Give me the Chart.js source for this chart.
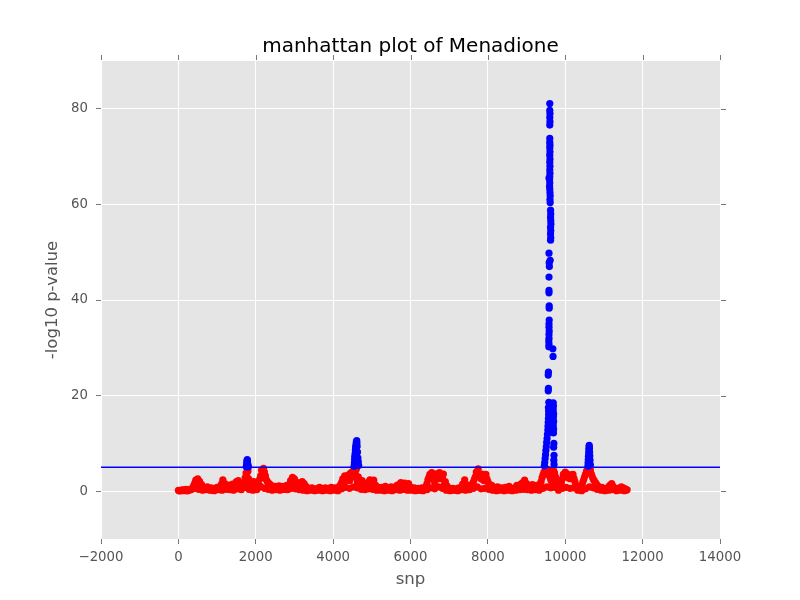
<!DOCTYPE html>
<html>
<head>
<meta charset="utf-8">
<script src="https://cdn.jsdelivr.net/npm/chart.js@4.4.1/dist/chart.umd.min.js"></script>
<style>
  html, body { margin: 0; padding: 0; background: #fff; }
</style>
</head>
<body>
<canvas id="manhattan" width="800" height="600"></canvas>
<script>
const chartTitle = 'manhattan plot of Menadione';
const xTicks = [-2000, 0, 2000, 4000, 6000, 8000, 10000, 12000, 14000];
const yTicks = [0, 20, 40, 60, 80];
const threshold = 5;

// -log10 p along the genome, one value every 50 snps (0 .. 11600)
const baseStep = 50;
const baseVals = [
    0.2, 0.1, 0.3, 0.2, 0.4, 0.2, 0.3, 0.5, 1.2, 2.3, 2.6, 2.0, 1.4, 0.8, 0.6, 0.9, 0.5, 0.7, 0.4, 0.6,
    0.8, 0.5, 1.2, 2.4, 1.6, 0.9, 1.3, 0.8, 1.5, 1.2, 2.0, 2.2, 1.4, 0.9, 1.8, 3.8, 4.2, 1.2, 0.5, 2.0,
    1.0, 0.6, 2.5, 4.4, 4.8, 3.2, 2.0, 1.6, 1.2, 0.8, 1.0, 0.7, 1.1, 0.8, 1.0, 0.6, 1.2, 0.8, 2.2, 2.9,
    2.6, 1.9, 1.2, 1.7, 2.0, 1.6, 1.0, 0.6, 0.4, 0.7, 0.5, 0.3, 0.6, 0.8, 0.5, 0.4, 0.7, 0.5, 0.6, 0.8,
    0.5, 0.7, 0.6, 0.9, 1.5, 2.6, 3.2, 2.8, 3.4, 3.8, 4.1, 4.5, 4.6, 3.0, 1.6, 2.2, 1.3, 0.7, 1.8, 2.4,
    1.6, 2.3, 1.2, 0.8, 0.5, 0.8, 0.6, 1.0, 0.7, 0.5, 0.9, 0.6, 0.8, 1.2, 1.4, 1.8, 1.3, 1.7, 1.0, 1.6,
    0.9, 0.5, 0.7, 0.4, 0.6, 0.3, 0.7, 0.5, 1.0, 2.4, 3.5, 3.9, 3.6, 2.5, 3.7, 3.9, 3.2, 3.6, 2.0, 1.0,
    0.5, 0.3, 0.6, 0.4, 0.5, 0.7, 0.4, 1.5, 2.4, 1.0, 1.3, 0.8, 1.5, 2.5, 4.0, 4.7, 3.2, 3.6, 2.2, 3.5,
    2.0, 1.4, 1.2, 0.8, 0.6, 0.9, 0.5, 0.7, 0.4, 0.8, 0.5, 1.0, 0.6, 0.4, 0.7, 1.2, 0.9, 1.5, 1.8, 2.3,
    1.6, 1.2, 0.9, 1.4, 1.0, 1.2, 0.8, 1.5, 2.8, 4.0, 4.8, 4.5, 3.0, 2.0, 4.3, 3.0, 1.2, 0.5, 1.8, 3.5,
    4.0, 3.6, 3.2, 3.4, 3.5, 2.0, 0.8, 0.3, 0.6, 1.8, 3.0, 4.2, 4.6, 4.4, 3.0, 2.2, 1.6, 1.0, 0.6, 0.8,
    0.5, 0.4, 0.7, 1.2, 1.6, 0.8, 0.4, 0.6, 0.5, 0.9, 0.7, 0.5, 0.3
];

// snps in between, one every 50 starting at 25
const midStart = 25;
const midStep = 50;
const midVals = [
    0.1, 0.2, 0.1, 0.3, 0.1, 0.2, 0.4, 0.8, 1.7, 1.5, 2.2, 1.1, 0.9, 0.4, 0.7, 0.3, 0.5, 0.2, 0.5, 0.3,
    0.4, 0.7, 1.6, 1.3, 0.8, 1.1, 0.5, 1.0, 0.7, 1.4, 1.2, 1.6, 0.6, 1.2, 2.8, 3.0, 2.5, 0.8, 1.2, 1.4,
    0.5, 1.4, 3.2, 3.0, 4.0, 2.4, 1.2, 0.9, 0.6, 0.5, 0.4, 0.8, 0.5, 0.6, 0.4, 0.8, 0.5, 1.5, 1.8, 2.0,
    1.6, 1.0, 0.8, 1.2, 1.1, 0.7, 0.5, 0.3, 0.5, 0.3, 0.2, 0.4, 0.5, 0.3, 0.2, 0.5, 0.3, 0.4, 0.5, 0.3,
    0.4, 0.3, 0.5, 1.1, 1.9, 2.0, 2.3, 2.6, 2.2, 2.9, 3.2, 3.6, 2.1, 1.2, 1.4, 0.9, 0.6, 1.2, 1.5, 1.3,
    1.5, 1.0, 0.6, 0.4, 0.5, 0.3, 0.7, 0.4, 0.3, 0.6, 0.4, 0.5, 0.9, 0.8, 1.1, 0.9, 1.2, 0.7, 1.1, 0.6,
    0.4, 0.3, 0.3, 0.5, 0.2, 0.4, 0.3, 0.6, 1.6, 2.9, 2.7, 3.0, 1.8, 2.8, 2.9, 2.6, 2.8, 1.4, 1.2, 0.6,
    0.2, 0.4, 0.3, 0.2, 0.4, 0.3, 0.9, 1.6, 1.4, 0.7, 0.9, 1.1, 1.9, 3.0, 3.4, 3.6, 2.6, 2.4, 2.8, 2.6,
    1.2, 1.0, 0.7, 0.5, 0.4, 0.3, 0.5, 0.3, 0.5, 0.4, 0.6, 0.4, 0.3, 0.5, 0.8, 0.6, 1.0, 1.2, 1.5, 1.4,
    0.9, 0.7, 1.0, 0.8, 0.6, 0.9, 1.1, 2.0, 3.4, 3.6, 4.2, 3.6, 2.4, 3.5, 3.8, 2.0, 0.8, 1.0, 2.6, 3.0,
    3.2, 2.8, 2.6, 2.9, 2.7, 1.3, 0.5, 0.4, 1.1, 2.4, 3.6, 3.8, 3.9, 3.6, 2.5, 1.8, 1.2, 0.7, 0.4, 0.5,
    0.3, 0.5, 0.9, 1.0, 1.1, 0.5, 0.3, 0.4, 0.7, 0.6, 0.4, 0.2
];

// weaker snps sitting under the trace, one every 100 snps starting at 25
const lowStart = 25;
const lowStep = 100;
const lowVals = [
    0.1, 0.2, 0.1, 0.3, 0.6, 0.4, 0.2, 0.3, 0.2, 0.1,
    0.3, 0.2, 0.4, 0.3, 0.2, 0.5, 0.3, 0.8, 0.4, 0.2,
    0.3, 1.0, 0.6, 0.4, 0.2, 0.3, 0.2, 0.4, 0.3, 0.6,
    0.5, 0.3, 0.2, 0.1, 0.2, 0.1, 0.2, 0.1, 0.2, 0.1,
    0.2, 0.1, 0.5, 0.8, 0.6, 0.9, 0.7, 0.4, 0.3, 0.5,
    0.4, 0.2, 0.2, 0.1, 0.2, 0.1, 0.3, 0.2, 0.4, 0.2,
    0.2, 0.1, 0.2, 0.1, 0.3, 0.7, 0.5, 0.9, 0.6, 0.2,
    0.1, 0.2, 0.1, 0.3, 0.2, 0.3, 0.6, 0.9, 0.5, 0.6,
    0.4, 0.2, 0.1, 0.2, 0.1, 0.2, 0.1, 0.2, 0.3, 0.4,
    0.3, 0.2, 0.3, 0.2, 0.6, 0.9, 0.7, 0.8, 0.2, 0.6,
    0.8, 0.6, 0.7, 0.2, 0.1, 0.5, 0.9, 0.7, 0.4, 0.2,
    0.1, 0.2, 0.3, 0.1, 0.2, 0.1
];

// snps in the four peaks
const peakSnp = [
    1755, 1765, 1770, 1775, 1780, 1785, 1790, 1800, 1810,
    4540, 4550, 4555, 4560, 4570, 4575, 4580, 4590, 4595, 4600, 4610, 4615, 4620, 4630, 4640, 4650, 4660,
    9460, 9470, 9480, 9490, 9500, 9510, 9520, 9530, 9540, 9550, 9555, 9560, 9565, 9570,
    9570, 9565, 9575, 9560, 9565, 9560, 9565, 9680, 9685,
    9575, 9580, 9575, 9580, 9580, 9585, 9580, 9580, 9585, 9585, 9585, 9580, 9580, 9580, 9590, 9585, 9610, 9580,
    9620, 9625, 9620, 9625, 9620, 9630, 9625, 9620, 9625, 9620,
    9610, 9605, 9610, 9605, 9600, 9595, 9600, 9595, 9600, 9605, 9600, 9605, 9600, 9605, 9600, 9605, 9600, 9605,
    9600, 9600, 9600, 9605, 9600, 9605, 9600, 9600, 9580,
    9690, 9695, 9690, 9700, 9695, 9700, 9690, 9700, 9695, 9705, 9700, 9710, 9705, 9710,
    10585, 10590, 10595, 10600, 10605, 10610, 10615, 10620, 10625, 10630, 10635, 10640, 10650
];
const peakVals = [
    5.1, 5.6, 6.0, 6.4, 6.6, 6.3, 5.9, 5.4, 5.1,
    5.2, 5.9, 6.6, 7.3, 7.9, 8.6, 9.1, 9.5, 9.9, 10.3, 10.6, 10.1, 9.4, 8.2, 7.0, 6.2, 5.4,
    5.3, 6.0, 6.8, 7.6, 8.5, 9.3, 10.2, 11.0, 11.9, 12.8, 13.6, 14.4, 15.2, 16.0,
    16.8, 17.5, 18.6, 21.0, 21.5, 24.3, 24.9, 29.8, 28.2,
    30.2, 30.8, 31.4, 32.0, 32.8, 33.5, 34.3, 35.0, 35.8, 38.3, 38.8, 41.5, 42.0, 44.8, 47.0, 47.8, 48.3, 49.8,
    52.5, 53.0, 53.8, 54.5, 55.2, 55.9, 56.6, 57.3, 58.0, 58.8,
    60.4, 61.0, 61.8, 62.5, 63.2, 63.8, 64.5, 65.2, 65.8, 66.5, 67.2, 68.0, 68.8, 69.5, 70.3, 71.0, 71.8, 72.4,
    73.0, 73.8, 76.6, 77.3, 78.2, 79.0, 79.7, 81.1, 65.5,
    18.5, 17.8, 17.0, 16.2, 15.5, 14.6, 13.8, 13.0, 12.2, 10.0, 9.2, 7.5, 6.5, 5.6,
    5.2, 5.9, 6.6, 7.3, 8.0, 8.7, 9.3, 9.6, 9.0, 8.2, 7.4, 6.5, 5.5
];

const points = [];
baseVals.forEach((v, i) => points.push({ x: i * baseStep, y: v }));
midVals.forEach((v, i) => points.push({ x: midStart + i * midStep, y: v }));
lowVals.forEach((v, i) => points.push({ x: lowStart + i * lowStep, y: v }));
peakSnp.forEach((s, i) => points.push({ x: s, y: peakVals[i] }));

const significant = points.filter(p => p.y >= threshold);
const background = points.filter(p => p.y < threshold);

// grey ggplot-like panel, title centred over the panel
const plotBackground = {
    id: 'plotBackground',
    afterLayout(chart) {
        if (chart.titleBlock) {
            chart.titleBlock.left = chart.chartArea.left;
            chart.titleBlock.right = chart.chartArea.right;
        }
    },
    beforeDraw(chart) {
        const { ctx, chartArea: a } = chart;
        ctx.save();
        ctx.fillStyle = '#E5E5E5';
        ctx.fillRect(a.left, a.top, a.right - a.left, a.bottom - a.top);
        ctx.restore();
    }
};

// small tick marks on the top and right edges
const mirrorTicks = {
    id: 'mirrorTicks',
    afterDraw(chart) {
        const { ctx, chartArea: a, scales } = chart;
        ctx.save();
        ctx.strokeStyle = '#777';
        ctx.lineWidth = 1;
        ctx.beginPath();
        xTicks.forEach(t => {
            const px = Math.round(scales.x.getPixelForValue(t)) + 0.5;
            ctx.moveTo(px, a.top - 1);
            ctx.lineTo(px, a.top - 6);
        });
        yTicks.forEach(t => {
            const py = Math.round(scales.y.getPixelForValue(t)) + 0.5;
            ctx.moveTo(a.right + 1, py);
            ctx.lineTo(a.right + 6, py);
        });
        ctx.stroke();
        ctx.restore();
    }
};

Chart.defaults.font.family = "'DejaVu Sans', sans-serif";

const ctx = document.getElementById('manhattan').getContext('2d');

new Chart(ctx, {
    type: 'scatter',
    data: {
        datasets: [
            {
                label: 'threshold',
                data: [{ x: xTicks[0], y: threshold }, { x: xTicks[xTicks.length - 1], y: threshold }],
                showLine: true,
                borderColor: '#0000FF',
                borderWidth: 1.5,
                pointRadius: 0,
            },
            {
                label: 'significant',
                data: significant,
                backgroundColor: '#0000FF',
                borderWidth: 0,
                pointRadius: 3.6,
            },
            {
                label: 'snps',
                data: background,
                backgroundColor: '#FF0000',
                borderWidth: 0,
                pointRadius: 3.6,
            },
        ],
    },
    options: {
        responsive: false,
        devicePixelRatio: 1,
        animation: false,
        layout: { padding: { left: 0, right: 80, top: 0, bottom: 0 } },
        plugins: {
            legend: { display: false },
            tooltip: { enabled: false },
            title: {
                display: true,
                text: chartTitle,
                color: '#000',
                font: { size: 20, weight: 'normal' },
                padding: { top: 35, bottom: 2 },
            },
        },
        scales: {
            x: {
                type: 'linear',
                min: xTicks[0],
                max: xTicks[xTicks.length - 1],
                afterBuildTicks: s => { s.ticks = xTicks.map(v => ({ value: v })); },
                afterFit: s => { s.height = 61; },
                border: { display: false },
                grid: { color: '#FFFFFF', lineWidth: 1, tickColor: '#777', tickLength: 5 },
                ticks: {
                    color: '#555',
                    font: { size: 13.3 },
                    padding: 6,
                    maxRotation: 0,
                    autoSkip: false,
                    callback: v => String(v).replace('-', '\u2212'),
                },
                title: {
                    display: true,
                    text: 'snp',
                    color: '#555',
                    font: { size: 16.6 },
                    padding: { top: 0, bottom: 10 },
                },
            },
            y: {
                type: 'linear',
                min: -10,
                max: 90,
                afterBuildTicks: s => { s.ticks = yTicks.map(v => ({ value: v })); },
                afterFit: s => { s.width = 101; },
                border: { display: false },
                grid: { color: '#FFFFFF', lineWidth: 1, tickColor: '#777', tickLength: 5 },
                ticks: {
                    color: '#555',
                    font: { size: 13.3 },
                    padding: 8,
                    callback: v => String(v),
                },
                title: {
                    display: true,
                    text: '-log10 p-value',
                    color: '#555',
                    font: { size: 16.5 },
                    padding: { top: 43, bottom: 0 },
                },
            },
        },
    },
    plugins: [plotBackground, mirrorTicks],
});
</script>
</body>
</html>
